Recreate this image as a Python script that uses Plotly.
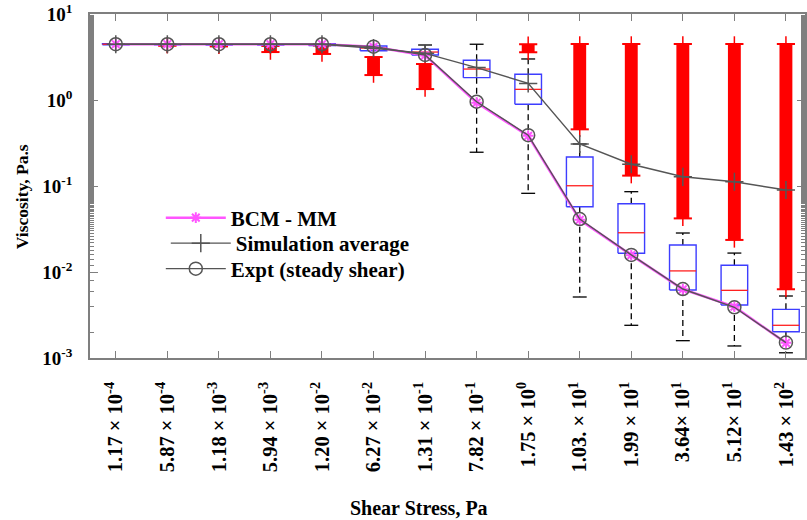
import plotly.graph_objects as go

# ---------------- data ----------------
shear_labels = ["1.17 × 10<sup>-4</sup>", "5.87 × 10<sup>-4</sup>", "1.18 × 10<sup>-3</sup>",
                "5.94 × 10<sup>-3</sup>", "1.20 × 10<sup>-2</sup>", "6.27 × 10<sup>-2</sup>",
                "1.31 × 10<sup>-1</sup>", "7.82 × 10<sup>-1</sup>", "1.75 × 10<sup>0</sup>",
                "1.03. × 10<sup>1</sup>", "1.99 × 10<sup>1</sup>", "3.64× 10<sup>1</sup>",
                "5.12× 10<sup>1</sup>", "1.43 × 10<sup>2</sup>"]
positions = list(range(1, 15))

expt = [4.45, 4.45, 4.45, 4.45, 4.45, 4.17, 3.34, 0.955, 0.39, 0.0413, 0.0158, 0.00634, 0.00389, 0.00151]
bcm_mm = [4.45, 4.45, 4.45, 4.45, 4.45, 4.15, 3.30, 0.93, 0.383, 0.0405, 0.0157, 0.0063, 0.00395, 0.00150]
sim_avg = [4.45, 4.45, 4.45, 4.45, 4.45, 4.0, 3.49, 2.38, 1.56, 0.308, 0.179, 0.128, 0.112, 0.0898]

# box statistics of the simulations
q1 = [4.38, 4.38, 4.36, 4.36, 4.30, 3.74, 3.34, 1.82, 0.891, 0.0574, 0.0165, 0.00618, 0.00413, 0.00202]
med = [4.45, 4.45, 4.45, 4.45, 4.40, 4.02, 3.61, 2.29, 1.33, 0.1007, 0.0286, 0.0103, 0.00612, 0.0024]
q3 = [4.50, 4.50, 4.52, 4.52, 4.50, 4.25, 3.89, 2.90, 1.99, 0.217, 0.0622, 0.0206, 0.01197, 0.00368]
whisk_lo = [4.38, 4.38, 4.36, 4.36, 4.30, 3.74, 3.34, 0.247, 0.0822, 0.00512, 0.0024, 0.00159, 0.00138, 0.00115]
whisk_hi = [4.50, 4.50, 4.52, 4.52, 4.50, 4.25, 4.36, 4.45, 3.0, 0.308, 0.0859, 0.0284, 0.0166, 0.00526]

# ranges covered by the (dense) outliers
outlier_lo = [None, 4.3, 4.2, 3.61, 3.43, 1.95, 1.34, None, 3.59, 0.456, 0.132, 0.042, 0.0236, 0.0063]
outlier_hi = [None, 4.3, 4.3, 4.25, 4.30, 3.16, 2.62, None, 4.45, 4.48, 4.48, 4.48, 4.48, 4.48]

# ---------------- style ----------------
FONT = "Liberation Serif"
AXIS_GRAY = "#7f7f7f"
BOX_HW = 0.258
CAP_HW = 0.135

fig = go.Figure()

# boxes
bx, by, mx, my = [], [], [], []
for p, a, m, b in zip(positions, q1, med, q3):
    bx += [p - BOX_HW, p + BOX_HW, p + BOX_HW, p - BOX_HW, p - BOX_HW, None]
    by += [a, a, b, b, a, None]
    mx += [p - BOX_HW, p + BOX_HW, None]
    my += [m, m, None]

# whiskers and caps
wx, wy, cx, cy = [], [], [], []
for p, a, b, lo, hi in zip(positions, q1, q3, whisk_lo, whisk_hi):
    if lo < a:
        wx += [p, p, None]
        wy += [a, lo, None]
        cx += [p - CAP_HW, p + CAP_HW, None]
        cy += [lo, lo, None]
    if hi > b:
        wx += [p, p, None]
        wy += [b, hi, None]
        cx += [p - CAP_HW, p + CAP_HW, None]
        cy += [hi, hi, None]

fig.add_trace(go.Scatter(x=wx, y=wy, mode="lines", line=dict(color="black", width=1.3, dash="6px,4px"),
                         showlegend=False, hoverinfo="skip"))
fig.add_trace(go.Scatter(x=cx, y=cy, mode="lines", line=dict(color="black", width=1.3),
                         showlegend=False, hoverinfo="skip"))

# outliers: dense red '+' markers forming bars
ox = [p for p, lo in zip(positions, outlier_lo) if lo is not None]
olo = [lo for lo in outlier_lo if lo is not None]
ohi = [hi for hi in outlier_hi if hi is not None]
fig.add_trace(go.Bar(x=ox, y=[h - l for h, l in zip(ohi, olo)], base=olo, width=0.25,
                     marker=dict(color="#ff0000", line=dict(width=0)), showlegend=False, hoverinfo="skip"))
fig.add_trace(go.Scatter(x=ox + ox, y=olo + ohi, mode="markers",
                         marker=dict(symbol="line-ns", size=11, color="#ff0000",
                                     line=dict(color="#ff0000", width=1.5)),
                         showlegend=False, hoverinfo="skip"))
fig.add_trace(go.Scatter(x=ox + ox, y=olo + ohi, mode="markers",
                         marker=dict(symbol="line-ew", size=13, color="#ff0000",
                                     line=dict(color="#ff0000", width=2)),
                         showlegend=False, hoverinfo="skip"))

fig.add_trace(go.Scatter(x=bx, y=by, mode="lines", line=dict(color="#3d3dff", width=1.4),
                         showlegend=False, hoverinfo="skip"))
fig.add_trace(go.Scatter(x=mx, y=my, mode="lines", line=dict(color="#ff2020", width=1.3),
                         showlegend=False, hoverinfo="skip"))

# curves (each with its own one-item legend so the spacing matches)
fig.add_trace(go.Scatter(x=positions, y=bcm_mm, mode="lines+markers", name="BCM - MM", legend="legend",
                         line=dict(color="#ff55ff", width=2.5),
                         marker=dict(symbol="asterisk-open", size=9, line=dict(color="#ff00ff", width=2))))
fig.add_trace(go.Scatter(x=positions, y=sim_avg, mode="lines+markers", name="Simulation average",
                         legend="legend2",
                         line=dict(color="#555555", width=1.4),
                         marker=dict(symbol="cross-thin-open", size=13, line=dict(color="black", width=1.5))))
fig.add_trace(go.Scatter(x=positions, y=expt, mode="lines+markers", name="Expt (steady shear)",
                         legend="legend3",
                         line=dict(color="#555555", width=1.4),
                         marker=dict(symbol="circle-open", size=13, line=dict(color="#444444", width=1.5))))

ytickvals = [1e-3, 1e-2, 1e-1, 1e0, 1e1]
yticktext = ["10<sup>-3</sup>", "10<sup>-2</sup>", "10<sup>-1</sup>", "10<sup>0</sup>", "10<sup>1</sup>"]


def legend_at(px_x, px_y):
    return dict(x=(px_x - 90) / 717, y=(358 - px_y) / 344, xanchor="left", yanchor="middle",
                bgcolor="rgba(0,0,0,0)", borderwidth=0, itemwidth=60,
                font=dict(family=FONT, size=21, weight="bold", color="black"))


fig.update_layout(
    width=807, height=520,
    margin=dict(l=90, r=0, t=14, b=162),
    paper_bgcolor="white", plot_bgcolor="white",
    font=dict(family=FONT, color="black"),
    showlegend=True,
    legend=legend_at(161, 218),
    legend2=legend_at(166, 243.5),
    legend3=legend_at(161, 269),
    xaxis=dict(range=[0.5, 14.37], tickmode="array", tickvals=positions, ticktext=shear_labels,
               tickangle=-90, ticks="inside", ticklen=7, tickcolor=AXIS_GRAY, tickwidth=1.2,
               showline=True, linecolor=AXIS_GRAY, linewidth=1.5, mirror="ticks",
               showgrid=False, zeroline=False, ticklabelstandoff=14,
               tickfont=dict(family=FONT, size=20.5, weight="bold", color="black")),
    yaxis=dict(type="log", range=[-3, 1], tickmode="array", tickvals=ytickvals, ticktext=yticktext,
               ticks="inside", ticklen=8, tickcolor=AXIS_GRAY, tickwidth=1.2,
               minor=dict(ticks="inside", ticklen=4, tickcolor=AXIS_GRAY, tickwidth=1, showgrid=False),
               showline=True, linecolor=AXIS_GRAY, linewidth=1.5, mirror="ticks",
               showgrid=False, zeroline=False, ticklabelstandoff=12,
               tickfont=dict(family=FONT, size=19, weight="bold", color="black")),
    annotations=[
        dict(text="Shear Stress, Pa", xref="paper", yref="paper", x=(420 - 90) / 717, y=(358 - 508) / 344,
             xanchor="center", yanchor="middle", showarrow=False,
             font=dict(family=FONT, size=20, weight="bold", color="black")),
        dict(text="Viscosity, Pa.s", xref="paper", yref="paper", x=(22 - 90) / 717, y=(358 - 197) / 344,
             xanchor="center", yanchor="middle", textangle=-90, showarrow=False,
             font=dict(family=FONT, size=17.5, weight="bold", color="black")),
    ],
)

fig.write_html("out.html")
